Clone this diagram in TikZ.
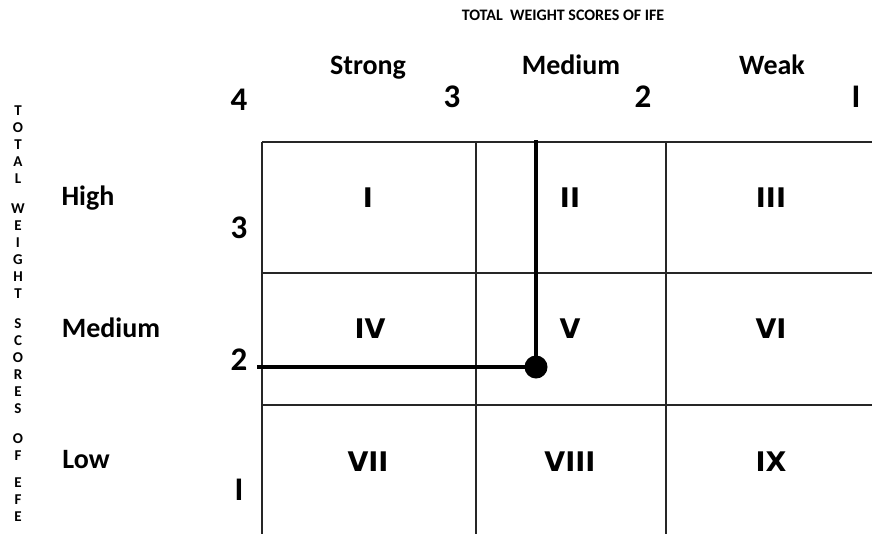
\documentclass[tikz,border=0pt]{standalone}
\usepackage{fontspec}
\setmainfont{Carlito}
\newfontfamily\zonefont{DejaVu Sans}
\usetikzlibrary{positioning}

\begin{document}
\begin{tikzpicture}[x=1pt, y=-1pt,
gridline/.style={line width=1.2pt, draw=black!85},
choice/.style={line width=4.5pt, draw=black},
hdr/.style={font=\fontsize{28}{32}\selectfont\bfseries, inner sep=0pt, anchor=base},
num/.style={font=\fontsize{33}{36}\selectfont\bfseries, inner sep=0pt},
zone/.style={font=\zonefont\fontsize{27}{32}\selectfont\bfseries, inner sep=0pt},
axistitle/.style={font=\fontsize{16}{18}\selectfont\bfseries, inner sep=0pt}
]
\useasboundingbox (0,0) rectangle (872,533);
\begin{scope}
\clip (0,0) rectangle (872,533);
% matrix grid
\foreach \y in {142,273,405} \draw[gridline] (262,\y) -- (880,\y);
\foreach \x in {262,476,666} \draw[gridline] (\x,142) -- (\x,540);
\end{scope}

% axis titles
\node (ifetitle) [axistitle] at (563,15) {TOTAL\ \ WEIGHT SCORES OF IFE};
\node (efetitle) [axistitle, align=center, font=\fontsize{15}{17}\selectfont\bfseries] at (18,314)
  {T\\O\\T\\A\\L\\[13pt]W\\E\\I\\G\\H\\T\\[13pt]S\\C\\O\\R\\E\\S\\[13pt]O\\F\\[10pt]E\\F\\E};

% column and row headings
\node (strong) [hdr] at (368,74) {Strong};
\node (medcol) [hdr] at (571,74) {Medium};
\node (weak)   [hdr] at (772,74) {Weak};
\node (high)   [hdr] at (88,205) {High};
\node (medrow) [hdr] at (111,337) {Medium};
\node (low)    [hdr] at (86,468) {Low};

% scale numbers
\node (x4) [num] at (239,100) {4};
\node (x3) [num] at (452,97) {3};
\node (x2) [num] at (643,97) {2};
\node (x1) [num] at (856,97) {I};
\node (y3) [num] at (239,228) {3};
\node (y2) [num] at (239,360) {2};
\node (y1) [num] at (239,490) {I};

% cells
\node (c1) [zone] at (368,198) {I};
\node (c2) [zone] at (570,198) {II};
\node (c3) [zone] at (771,198) {III};
\node (c4) [zone] at (370,329) {IV};
\node (c5) [zone] at (570,329) {V};
\node (c6) [zone] at (771,329) {VI};
\node (c7) [zone] at (368,462) {VII};
\node (c8) [zone] at (570,462) {VIII};
\node (c9) [zone] at (771,462) {IX};

% position of the firm
\coordinate (efeend) at (257,367);
\coordinate (ifeend) at (536,140);
\coordinate (firm) at (536,367);
\draw[choice] (efeend) -| (ifeend);
\fill (firm) circle (11.5);
\end{tikzpicture}
\end{document}
